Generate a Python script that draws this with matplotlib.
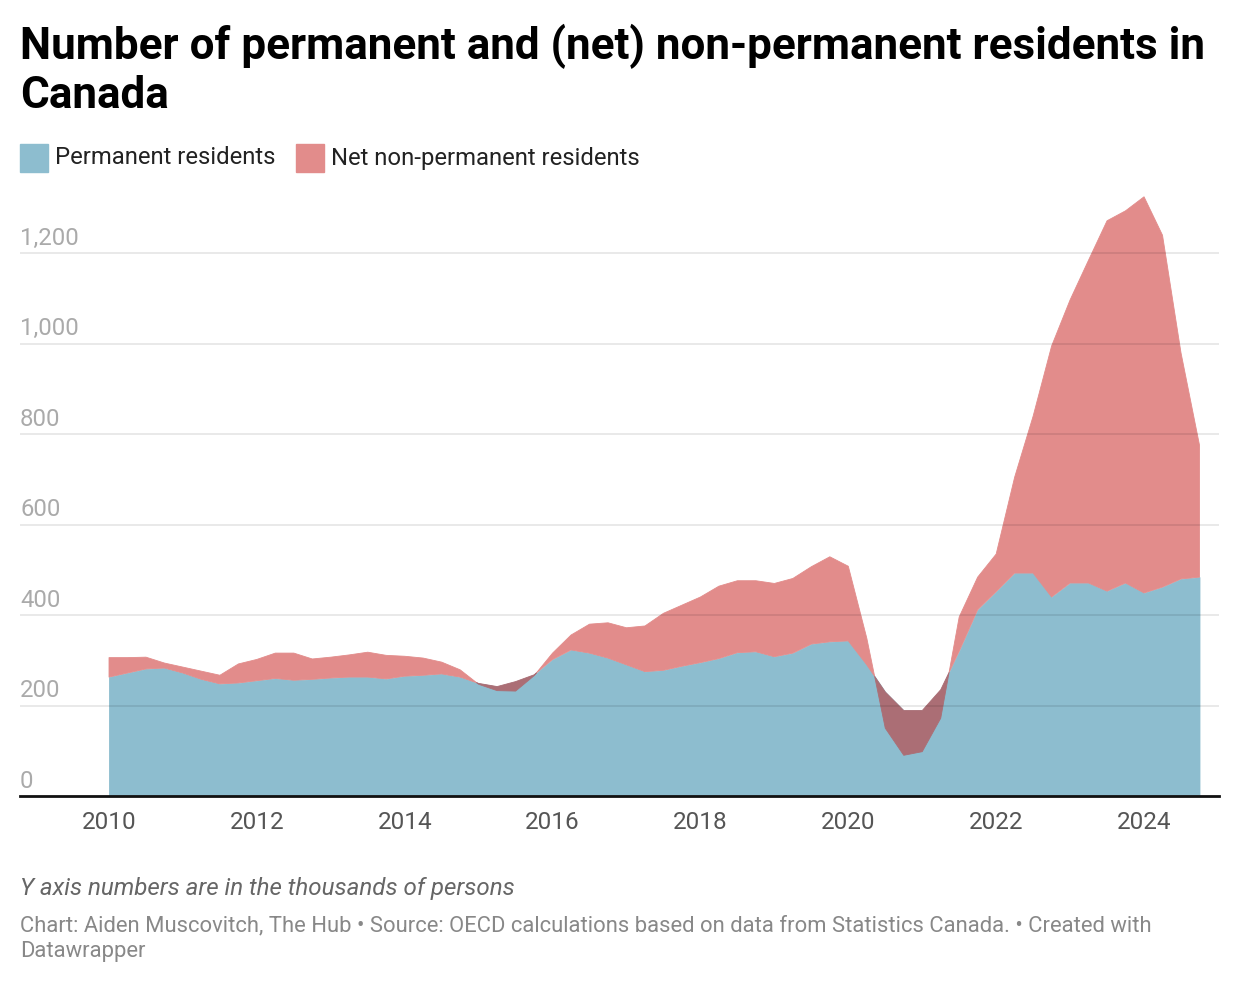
import numpy as np
import matplotlib
matplotlib.use('Agg')
from matplotlib import pyplot as plt
from matplotlib.patches import Rectangle

plt.rcParams['font.family'] = ['Roboto', 'DejaVu Sans']

# quarterly, 2010 Q1 .. 2024 Q4 (thousands of persons)
quarters = np.arange(2010, 2025, 0.25)
permanent = [263, 272, 281, 283, 272, 258, 248, 250, 255, 260, 256, 258,
             261, 263, 263, 259, 265, 267, 270, 263, 249, 242, 253, 268,
             302, 323, 316, 305, 290, 275, 278, 287, 295, 304, 317, 319,
             308, 316, 336, 341, 343, 290, 230, 189, 189, 235, 320, 412,
             452, 493, 493, 440, 471, 471, 453, 471, 449, 462, 480, 484]
non_permanent = [43, 34, 26, 11, 13, 18, 19, 42, 47, 56, 60, 45,
                 46, 49, 55, 52, 44, 38, 26, 16, -2, -9, -21, -2,
                 14, 33, 64, 78, 82, 101, 126, 135, 145, 160, 159, 157,
                 162, 165, 171, 188, 165, 59, -80, -99, -91, -63, 76, 72,
                 83, 212, 347, 555, 626, 714, 819, 823, 876, 778, 500, 292]
series_names = ['Permanent residents', 'Net non-permanent residents']
y_ticks = [0, 200, 400, 600, 800, 1000, 1200]
x_ticks = [2010, 2012, 2014, 2016, 2018, 2020, 2022, 2024]

BLUE = '#8dbdcf'
RED = '#e28c8b'
DARK = '#ab6e75'

pr = np.array(permanent, dtype=float)
total = pr + np.array(non_permanent, dtype=float)

fig = plt.figure(figsize=(12.4, 9.86), dpi=100)
ax = fig.add_axes([20 / 1240, 190 / 986, 1199 / 1240, 606 / 986])

ax.fill_between(quarters, 0, pr, facecolor=BLUE, edgecolor=BLUE, lw=0.6)
ax.fill_between(quarters, pr, total, where=total >= pr, interpolate=True,
                facecolor=RED, edgecolor=RED, lw=0.6)
ax.fill_between(quarters, pr, total, where=total < pr, interpolate=True,
                facecolor=DARK, edgecolor=DARK, lw=0.6)

ax.set_xlim(2008.796, 2025.014)
ax.set_ylim(0, 1340)

for s in ['top', 'right', 'left']:
    ax.spines[s].set_visible(False)
ax.spines['bottom'].set_color('#111111')
ax.spines['bottom'].set_linewidth(2)
ax.spines['bottom'].set_zorder(5)

ax.set_yticks([])
for v in y_ticks[1:]:
    ax.axhline(v, color='black', alpha=0.1, lw=1.2, zorder=3)
for v in y_ticks:
    ax.annotate('{:,}'.format(v), xy=(0, v), xycoords=('axes fraction', 'data'),
                xytext=(0, 2.5), textcoords='offset points', ha='left', va='bottom',
                fontsize=17.2, color='#aaaaaa')

ax.set_xticks(x_ticks)
ax.set_xticklabels([str(x) for x in x_ticks], fontsize=17.5, color='#555555')
ax.tick_params(axis='x', length=0, pad=11)

# title
fig.text(20 / 1240, 1 - 46 / 986, 'Number of permanent and (net) non-permanent residents in',
         fontsize=31.7, fontweight='bold', va='center', ha='left')
fig.text(20 / 1240, 1 - 96 / 986, 'Canada', fontsize=31.7, fontweight='bold', va='center', ha='left')

# legend
fig.patches.append(Rectangle((20 / 1240, 1 - 172 / 986), 28 / 1240, 28 / 986,
                             transform=fig.transFigure, color=BLUE))
fig.text(55 / 1240, 1 - 158 / 986, series_names[0], fontsize=17.2, va='center', color='#222222')
fig.patches.append(Rectangle((296 / 1240, 1 - 172 / 986), 28 / 1240, 28 / 986,
                             transform=fig.transFigure, color=RED))
fig.text(331 / 1240, 1 - 158 / 986, series_names[1], fontsize=17.2, va='center', color='#222222')

# footer
fig.text(20 / 1240, 1 - 889 / 986, 'Y axis numbers are in the thousands of persons',
         fontsize=17.4, style='italic', color='#666666', va='center')
fig.text(20 / 1240, 1 - 926 / 986,
         'Chart: Aiden Muscovitch, The Hub • Source: OECD calculations based on data from Statistics Canada. • Created with',
         fontsize=15.8, color='#888888', va='center')
fig.text(20 / 1240, 1 - 952 / 986, 'Datawrapper', fontsize=15.8, color='#888888', va='center')

plt.savefig('out.png', dpi=100)
